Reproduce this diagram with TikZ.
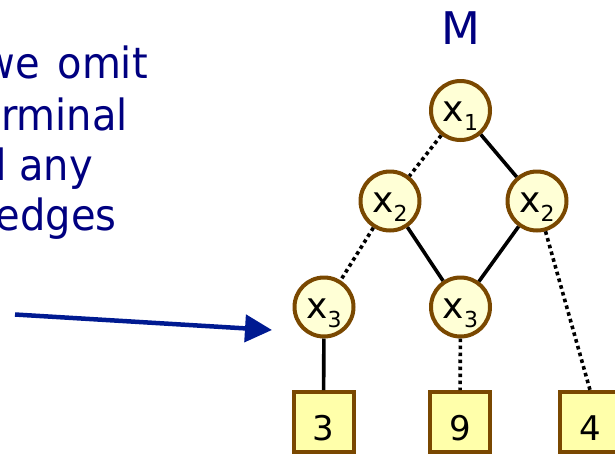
\documentclass[tikz,border=0pt]{standalone}
\usepackage{fontspec}
\setmainfont{DejaVu Sans}
\newfontfamily\notefont[FakeStretch=0.93]{DejaVu Sans}
\usetikzlibrary{arrows.meta}

\definecolor{navytext}{RGB}{0,0,128}
\definecolor{arrowblue}{RGB}{0,26,145}
\definecolor{nodebrown}{RGB}{122,72,0}
\definecolor{circlefill}{RGB}{255,255,214}
\definecolor{boxfill}{RGB}{255,255,170}

% lowered index digit for variable labels
\newcommand\subidx[1]{\raisebox{-9pt}{\fontsize{22}{22}\selectfont #1}}

\begin{document}
\begin{tikzpicture}[x=1pt, y=-1pt,
  varnode/.style={circle, draw=nodebrown, line width=4pt, fill=circlefill,
    minimum size=59pt, inner sep=0pt, font=\fontsize{36}{36}\selectfont,
    text height=22pt, text depth=0pt},
  leafnode/.style={rectangle, draw=nodebrown, line width=4pt, fill=boxfill,
    minimum size=60pt, inner sep=0pt, font=\fontsize{34}{34}\selectfont,
    text height=36pt, text depth=0pt},
  hiedge/.style={line width=3.6pt},
  loedge/.style={line width=3.6pt, dash pattern=on 3.6pt off 3.4pt},
  note/.style={font=\notefont\fontsize{43}{43}\selectfont, text=navytext,
    inner sep=0pt, anchor=base east},
  pointer/.style={draw=arrowblue, line width=4.5pt,
    -{Triangle[length=27pt, width=27pt, fill=arrowblue]}}
]
\useasboundingbox (0,0) rectangle (615,453);

% explanatory note (left, justified lines)
\node[note] (l1) at (148,78)  {we\hspace{5pt} omit};
\node[note] (l2) at (128,130) {rminal};
\node[note] (l3) at (93,180)  {d any};
\node[note] (l4) at (117,230) {edges};

% diagram title
\node[font=\fontsize{45}{45}\selectfont, text=navytext, inner sep=0pt] (title) at (461,28.5) {M};

% variable nodes
\node[varnode] (x1)  at (460.5,110.5) {x\subidx{1}};
\node[varnode] (x2l) at (390,201)     {x\subidx{2}};
\node[varnode] (x2r) at (537,201)     {x\subidx{2}};
\node[varnode] (x3l) at (324,307)     {x\subidx{3}};
\node[varnode] (x3m) at (460.5,307)   {x\subidx{3}};

% terminal nodes
\node[leafnode] (t3) at (323.5,422) {3};
\node[leafnode] (t9) at (460,422)   {9};
\node[leafnode] (t4) at (590,422)   {4};

% edges: solid = high, dotted = low
\draw[loedge] (x1) -- (x2l);
\draw[hiedge] (x1) -- (x2r);
\draw[loedge] (x2l) -- (x3l);
\draw[hiedge] (x2l) -- (x3m);
\draw[hiedge] (x2r) -- (x3m);
\draw[loedge] (x2r) -- (t4.north);
\draw[hiedge] (x3l) -- (t3);
\draw[loedge] (x3m) -- (t9);

% pointer arrow
\coordinate (ptail) at (15,314.5);
\coordinate (phead) at (272,330);
\draw[pointer] (ptail) -- (phead);
\end{tikzpicture}
\end{document}
